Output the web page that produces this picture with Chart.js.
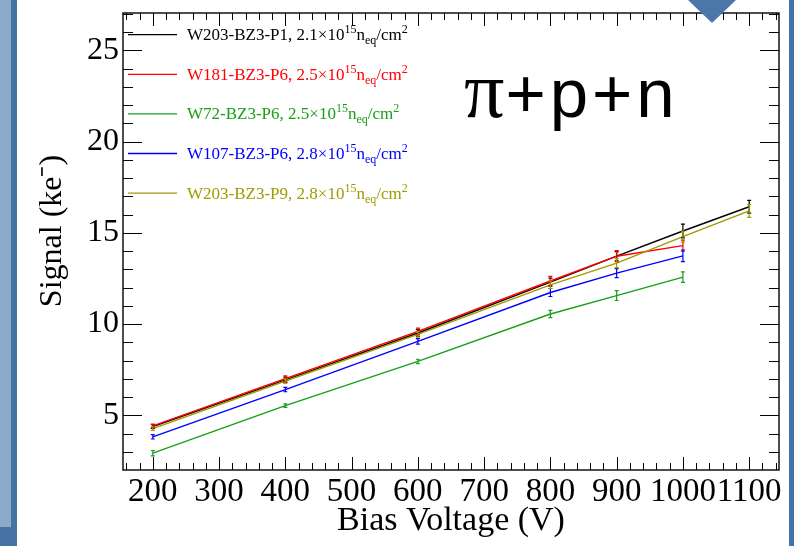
<!DOCTYPE html>
<html>
<head>
<meta charset="utf-8">
<script src="https://cdn.jsdelivr.net/npm/chart.js@4.4.1/dist/chart.umd.min.js"></script>
<style>
  html, body { margin: 0; padding: 0; background: #fff; }
  #wrap { position: relative; width: 794px; height: 546px; overflow: hidden; }
  #signalChart { position: absolute; left: 0; top: 0; z-index: 1; }
  .edge-dark { position: absolute; left: 0; top: 0; width: 17px; height: 546px; background: #4573a6; }
  .edge-light { position: absolute; left: 0; top: 0; width: 11px; height: 527px; background: #8eaacb; }
  .edge-right { position: absolute; left: 789px; top: 0; width: 5px; height: 546px; background: #4573a6; }
  .marker { position: absolute; left: 688px; top: 0; width: 0; height: 0;
            border-left: 24px solid transparent; border-right: 24px solid transparent;
            border-top: 23px solid #4a76a8; z-index: 2; }
</style>
</head>
<body>
<div id="wrap">
  <div class="edge-dark"></div>
  <div class="edge-light"></div>
  <div class="edge-right"></div>
  <canvas id="signalChart" width="794" height="546"></canvas>
  <div class="marker"></div>
</div>
<script>
// bias voltages (V)
const voltages = [200, 400, 600, 800, 900, 1000, 1100];

const sampleNames = ['W203-BZ3-P1', 'W181-BZ3-P6', 'W72-BZ3-P6', 'W107-BZ3-P6', 'W203-BZ3-P9'];
const fluences = ['2.1', '2.5', '2.5', '2.8', '2.8'];
const seriesColors = ['#000000', '#ff0000', '#16a016', '#0000ff', '#a09a00'];

// signal in ke-, with symmetric errors
const signalW203P1 = [4.38, 6.94, 9.51, 12.30, 13.72, 15.10, 16.43];
const errorW203P1  = [0.10, 0.15, 0.18, 0.22, 0.25, 0.38, 0.35];
const signalW181P6 = [4.42, 7.01, 9.60, 12.36, 13.72, 14.30];
const errorW181P6  = [0.10, 0.15, 0.18, 0.25, 0.30, 0.30];
const signalW72P6  = [2.92, 5.53, 7.95, 10.55, 11.56, 12.57];
const errorW72P6   = [0.15, 0.10, 0.12, 0.20, 0.27, 0.29];
const signalW107P6 = [3.82, 6.41, 9.05, 11.73, 12.79, 13.74];
const errorW107P6  = [0.12, 0.12, 0.15, 0.22, 0.25, 0.32];
const signalW203P9 = [4.27, 6.88, 9.43, 12.15, 13.34, 14.79, 16.20];
const errorW203P9  = [0.10, 0.12, 0.15, 0.20, 0.25, 0.30, 0.35];

const xMajorTicks = [200, 300, 400, 500, 600, 700, 800, 900, 1000, 1100];
const yMajorTicks = [5, 10, 15, 20, 25];

const allSignals = [signalW203P1, signalW181P6, signalW72P6, signalW107P6, signalW203P9];
const allErrors = [errorW203P1, errorW181P6, errorW72P6, errorW107P6, errorW203P9];

const serif = '"Liberation Serif", "Times New Roman", serif';

const datasets = allSignals.map((vals, k) => ({
  label: sampleNames[k],
  data: vals.map((v, i) => ({ x: voltages[i], y: v })),
  errors: allErrors[k],
  borderColor: seriesColors[k],
  backgroundColor: seriesColors[k],
  borderWidth: 1.4,
  pointRadius: 0,
  tension: 0,
  fill: false,
  order: allSignals.length - k
}));

// vertical error bars with small caps
const errorBars = {
  id: 'errorBars',
  afterDatasetsDraw(chart) {
    const { ctx, scales: { y } } = chart;
    ctx.save();
    ctx.lineWidth = 1.2;
    for (let k = 0; k < chart.data.datasets.length; k++) {
      const ds = chart.data.datasets[k];
      const meta = chart.getDatasetMeta(k);
      ctx.strokeStyle = ds.borderColor;
      ctx.beginPath();
      meta.data.forEach((pt, i) => {
        const v = ds.data[i].y, e = ds.errors[i];
        const top = y.getPixelForValue(v + e), bot = y.getPixelForValue(v - e);
        ctx.moveTo(pt.x, top); ctx.lineTo(pt.x, bot);
        ctx.moveTo(pt.x - 2, top); ctx.lineTo(pt.x + 2, top);
        ctx.moveTo(pt.x - 2, bot); ctx.lineTo(pt.x + 2, bot);
      });
      ctx.stroke();
    }
    ctx.restore();
  }
};

// box frame with inward ticks on all four sides
const frameTicks = {
  id: 'frameTicks',
  afterDatasetsDraw(chart) {
    const { ctx, chartArea: a, scales: { x, y } } = chart;
    ctx.save();
    ctx.strokeStyle = '#000';
    ctx.lineWidth = 1;
    ctx.beginPath();
    for (let v = 160; v < x.max; v += 20) {
      const px = Math.round(x.getPixelForValue(v)) + 0.5;
      const len = xMajorTicks.includes(v) ? 13 : 7;
      ctx.moveTo(px, a.bottom); ctx.lineTo(px, a.bottom - len);
      ctx.moveTo(px, a.top); ctx.lineTo(px, a.top + len);
    }
    for (let v = 3; v < y.max; v += 1) {
      const py = Math.round(y.getPixelForValue(v)) + 0.5;
      const len = yMajorTicks.includes(v) ? 19 : 10;
      ctx.moveTo(a.left, py); ctx.lineTo(a.left + len, py);
      ctx.moveTo(a.right, py); ctx.lineTo(a.right - len, py);
    }
    ctx.stroke();
    ctx.lineWidth = 1.4;
    ctx.strokeRect(a.left, a.top, a.right - a.left, a.bottom - a.top);
    ctx.restore();
  }
};

// legend with fluence superscripts/subscripts, y title, and the particle label
const legendBox = {
  id: 'legendBox',
  afterDraw(chart) {
    const { ctx } = chart;
    ctx.save();
    ctx.textBaseline = 'alphabetic';
    ctx.textAlign = 'left';
    chart.data.datasets.forEach((ds, k) => {
      const ly = 34.7 + k * 39.6;
      ctx.strokeStyle = ds.borderColor;
      ctx.lineWidth = 1.3;
      ctx.beginPath();
      ctx.moveTo(128, ly); ctx.lineTo(177, ly);
      ctx.stroke();

      ctx.fillStyle = ds.borderColor;
      const base = ly + 5.5;
      let tx = 187;
      const put = (s, size, dy) => {
        ctx.font = size + 'px ' + serif;
        ctx.fillText(s, tx, base + dy);
        tx += ctx.measureText(s).width;
      };
      put(ds.label + ', ' + fluences[k] + '\u00d710', 17, 0);
      put('15', 12, -7);
      put('n', 17, 0);
      put('eq', 12, 4);
      put('/cm', 17, 0);
      put('2', 12, -7);
    });

    // y axis title
    ctx.save();
    ctx.translate(61, 231);
    ctx.rotate(-Math.PI / 2);
    ctx.fillStyle = '#000';
    ctx.textAlign = 'center';
    ctx.font = '32px ' + serif;
    ctx.fillText('Signal (ke\u207b)', 0, 0);
    ctx.restore();

    ctx.fillStyle = '#000';
    ctx.font = '80px ' + serif;
    ctx.fillText('\u03c0', 464, 117);
    const pw = ctx.measureText('\u03c0').width;
    ctx.font = '69px "Liberation Sans", Arial, sans-serif';
    ctx.letterSpacing = '4px';
    ctx.fillText('+p+n', 464 + pw + 1, 117);
    ctx.letterSpacing = '0px';
    ctx.restore();
  }
};

new Chart(document.getElementById('signalChart'), {
  type: 'line',
  data: { datasets },
  options: {
    responsive: false,
    animation: false,
    events: [],
    layout: { padding: { top: 13, right: 15, left: 0, bottom: 0 } },
    plugins: {
      legend: { display: false },
      tooltip: { enabled: false },
      title: { display: false }
    },
    scales: {
      x: {
        type: 'linear',
        min: 155,
        max: 1145,
        afterBuildTicks(scale) { scale.ticks = xMajorTicks.map(v => ({ value: v })); },
        afterFit(scale) {
          scale.height = 76;
          scale.paddingLeft = 0;
          scale.paddingRight = 0;
        },
        grid: { display: false, drawTicks: false },
        border: { display: false },
        ticks: {
          autoSkip: false,
          maxRotation: 0,
          minRotation: 0,
          padding: 3,
          color: '#000',
          font: { family: serif, size: 33 },
          callback: v => String(v)
        },
        title: {
          display: true,
          text: 'Bias Voltage (V)',
          color: '#000',
          font: { family: serif, size: 34 },
          padding: { top: 0, bottom: 5 }
        }
      },
      y: {
        type: 'linear',
        min: 2,
        max: 27.05,
        afterBuildTicks(scale) { scale.ticks = yMajorTicks.map(v => ({ value: v })); },
        afterFit(scale) {
          scale.width = 123;
          scale.paddingTop = 0;
          scale.paddingBottom = 0;
        },
        grid: { display: false, drawTicks: false },
        border: { display: false },
        ticks: {
          autoSkip: false,
          padding: 4,
          color: '#000',
          font: { family: serif, size: 32 },
          callback: v => String(v)
        }
      }
    }
  },
  plugins: [errorBars, frameTicks, legendBox]
});
</script>
</body>
</html>
